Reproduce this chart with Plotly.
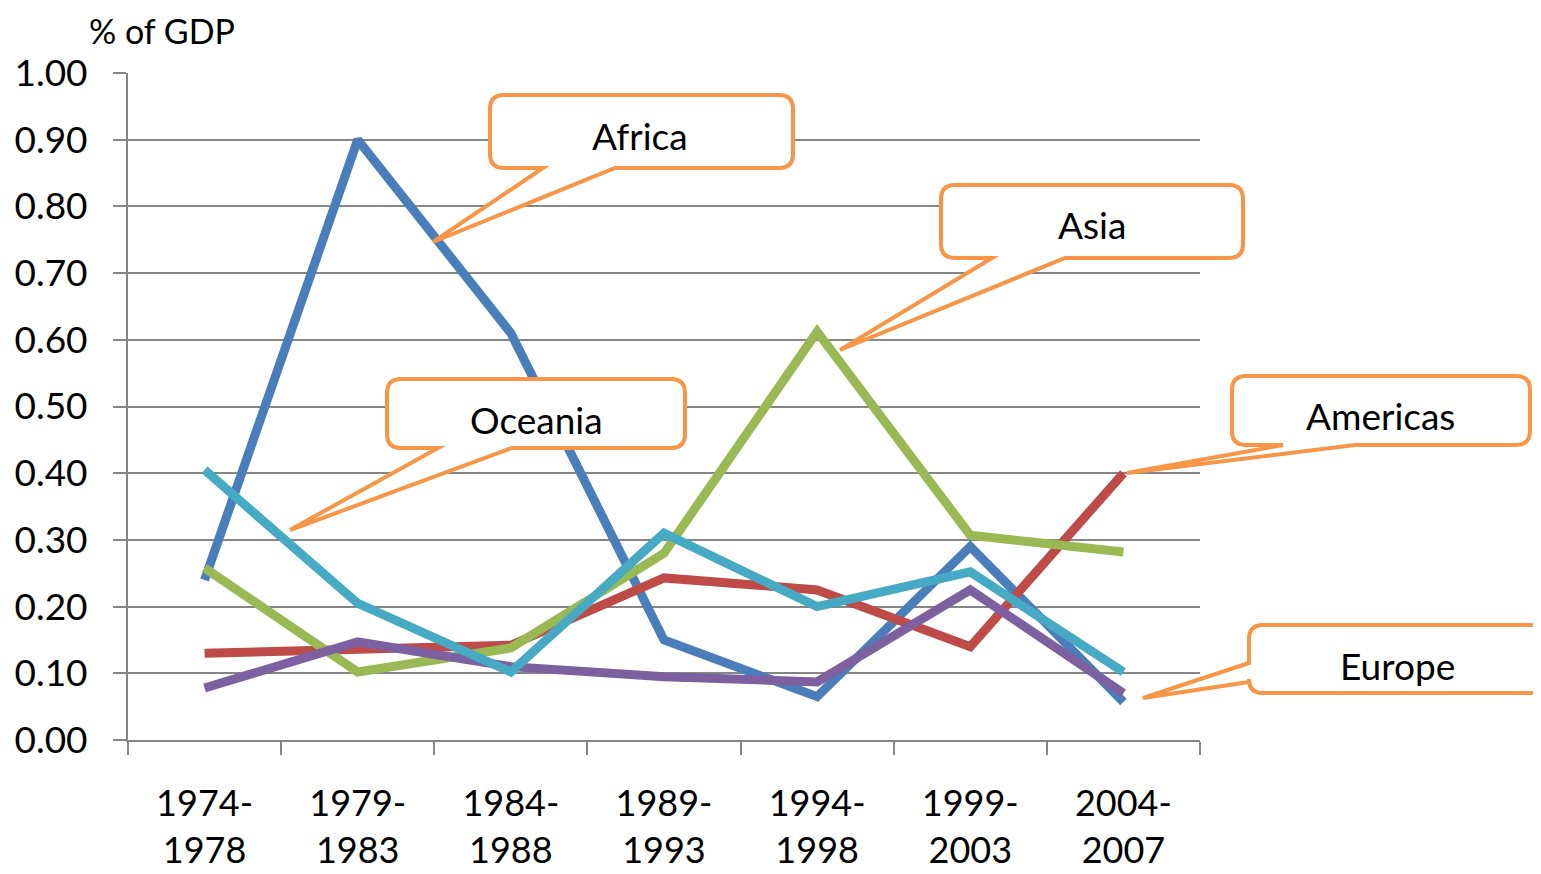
import plotly.graph_objects as go

categories = ["1974-<br>1978", "1979-<br>1983", "1984-<br>1988", "1989-<br>1993",
              "1994-<br>1998", "1999-<br>2003", "2004-<br>2007"]
africa = [0.24, 0.90, 0.61, 0.15, 0.065, 0.29, 0.057]
americas = [0.13, 0.135, 0.142, 0.243, 0.225, 0.14, 0.40]
asia = [0.258, 0.102, 0.138, 0.28, 0.612, 0.307, 0.282]
europe = [0.078, 0.147, 0.11, 0.095, 0.087, 0.225, 0.07]
oceania = [0.405, 0.205, 0.102, 0.31, 0.20, 0.252, 0.102]

series = [("Africa", africa, "#4A7EBB"), ("Americas", americas, "#BE4B48"),
          ("Asia", asia, "#98B954"), ("Europe", europe, "#7D60A0"),
          ("Oceania", oceania, "#46AAC5")]

OFF = 8  # page body margin
W, H = 1541 - OFF, 874 - OFF
L, R, T, B = 128, 1200, 73, 740
FONT = "Lato"

fig = go.Figure()
for name, vals, col in series:
    fig.add_trace(go.Scatter(x=categories, y=vals, mode="lines", name=name,
                             line=dict(color=col, width=9), showlegend=False))

def px(x, y):
    return (x - L) / (R - L), (B - y) / (B - T)

def pt(x, y):
    a, b = px(x, y)
    return f"{a:.5f},{b:.5f}"

def callout_bottom(x0, y0, x1, y1, b0, b1, tip, r=14):
    p = [f"M{pt(x0 + r, y0)}", f"L{pt(x1 - r, y0)}", f"Q{pt(x1, y0)} {pt(x1, y0 + r)}",
         f"L{pt(x1, y1 - r)}", f"Q{pt(x1, y1)} {pt(x1 - r, y1)}",
         f"L{pt(b1, y1)}", f"L{pt(*tip)}", f"L{pt(b0, y1)}",
         f"L{pt(x0 + r, y1)}", f"Q{pt(x0, y1)} {pt(x0, y1 - r)}",
         f"L{pt(x0, y0 + r)}", f"Q{pt(x0, y0)} {pt(x0 + r, y0)}", "Z"]
    return " ".join(p)

def callout_left(x0, y0, x1, y1, b0, b1, tip, r=14):
    p = [f"M{pt(x0 + r, y0)}", f"L{pt(x1 - r, y0)}", f"Q{pt(x1, y0)} {pt(x1, y0 + r)}",
         f"L{pt(x1, y1 - r)}", f"Q{pt(x1, y1)} {pt(x1 - r, y1)}",
         f"L{pt(x0 + r, y1)}", f"Q{pt(x0, y1)} {pt(x0, y1 - r)}",
         f"L{pt(x0, b1)}", f"L{pt(*tip)}", f"L{pt(x0, b0)}",
         f"L{pt(x0, y0 + r)}", f"Q{pt(x0, y0)} {pt(x0 + r, y0)}", "Z"]
    return " ".join(p)

orange = "#F79646"
callouts = [
    ("Africa", callout_bottom(490, 95, 793, 168, 543, 615, (433, 242)), (640, 135)),
    ("Asia", callout_bottom(941, 185, 1243, 258, 992, 1065, (840, 350)), (1092, 225)),
    ("Oceania", callout_bottom(387, 379, 685, 448, 438, 512, (290, 530)), (536, 419)),
    ("Americas", callout_bottom(1232, 376, 1530, 445, 1283, 1355, (1127, 473)), (1380, 415)),
    ("Europe", callout_left(1249, 625, 1580, 693, 663, 682, (1143, 698)), (1397, 665)),
]
shapes = []
annotations = []
for label, path, (tx, ty) in callouts:
    shapes.append(dict(type="path", xref="paper", yref="paper", path=path,
                       fillcolor="white", line=dict(color=orange, width=4), layer="above"))
    ax, ay = px(tx, ty)
    annotations.append(dict(x=ax, y=ay, xref="paper", yref="paper", text=label,
                            showarrow=False, font=dict(family=FONT, size=37, color="black"),
                            xanchor="center", yanchor="middle"))

tx, ty = px(162, 30)
annotations.append(dict(x=tx, y=ty, xref="paper", yref="paper", text="% of GDP",
                        showarrow=False, font=dict(family=FONT, size=34, color="black"),
                        xanchor="center", yanchor="middle"))

fig.update_layout(
    width=W, height=H,
    margin=dict(l=L - OFF, r=1541 - R, t=T - OFF, b=874 - B, pad=0),
    paper_bgcolor="white", plot_bgcolor="white",
    shapes=shapes, annotations=annotations,
    xaxis=dict(type="category", range=[-0.5, 6.5], showgrid=False, automargin=False,
               showline=True, linecolor="#868686", linewidth=2,
               ticks="outside", tickson="boundaries", ticklen=13, tickwidth=2,
               tickcolor="#868686", ticklabelstandoff=31,
               tickfont=dict(family=FONT, size=36, color="black")),
    yaxis=dict(range=[0, 1.0], dtick=0.1, tickformat=".2f", automargin=False,
               showgrid=True, gridcolor="#868686", gridwidth=2,
               showline=True, linecolor="#868686", linewidth=2,
               ticks="outside", ticklen=13, tickwidth=2, tickcolor="#868686",
               ticklabelstandoff=18, zeroline=False,
               tickfont=dict(family=FONT, size=37, color="black")),
)

fig.write_html("out.html")
